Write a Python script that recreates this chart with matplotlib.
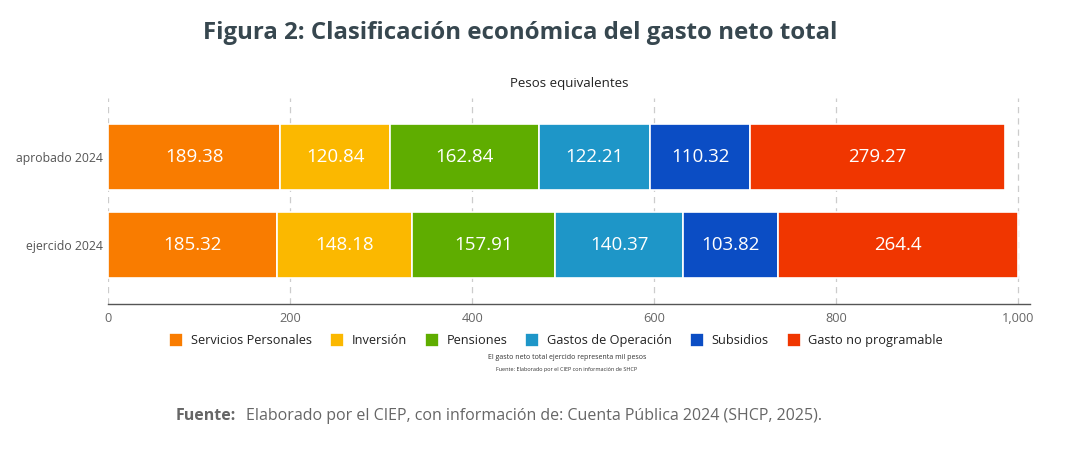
import matplotlib.pyplot as plt

plt.rcParams['font.family'] = ['Open Sans', 'DejaVu Sans']

# data
years = ["aprobado 2024", "ejercido 2024"]
categories = ["Servicios Personales", "Inversión", "Pensiones",
              "Gastos de Operación", "Subsidios", "Gasto no programable"]
aprobado = [189.38, 120.84, 162.84, 122.21, 110.32, 279.27]
ejercido = [185.32, 148.18, 157.91, 140.37, 103.82, 264.4]
colors = ["#F97C00", "#FBB800", "#5FAD00", "#1E96C8", "#0B4DC4", "#F03600"]
xticks = [0, 200, 400, 600, 800, 1000]

fig = plt.figure(figsize=(10.8, 4.61), dpi=100)
ax = fig.add_axes([0.1, 0.3406, 0.854, 0.4468])

series = [aprobado, ejercido]
left = [0.0, 0.0]
for i, cat in enumerate(categories):
    vals = [s[i] for s in series]
    bars = ax.barh([0, 1], vals, left=left, height=0.75, color=colors[i],
                   edgecolor="white", linewidth=1.2, label=cat, zorder=3)
    for b, v in zip(bars, vals):
        ax.text(b.get_x() + b.get_width() / 2, b.get_y() + b.get_height() / 2,
                f"{v:g}", ha="center", va="center", color="white",
                fontsize=13.5, zorder=4)
    left = [l + v for l, v in zip(left, vals)]

ax.set_ylim(1.67, -0.67)
ax.set_xlim(0, 1013)
ax.set_yticks([0, 1])
ax.set_yticklabels(years, fontsize=8.8, color="#555555")
ax.set_xticks(xticks)
ax.set_xticklabels([f"{x:,}" for x in xticks], fontsize=9.2, color="#666666")
ax.tick_params(axis="y", length=0, pad=4)
ax.tick_params(axis="x", length=0, pad=6)
ax.grid(axis="x", color="#cccccc", linestyle=(0, (5, 4)), linewidth=0.9, zorder=0)
for s in ["top", "right", "left"]:
    ax.spines[s].set_visible(False)
ax.spines["bottom"].set_color("#555555")
ax.spines["bottom"].set_linewidth(1.0)

ax.text(0.5, 1.04, "Pesos equivalentes", transform=ax.transAxes,
        ha="center", va="bottom", fontsize=9.5, color="#222222")

leg = fig.legend(loc="center", bbox_to_anchor=(0.515, 0.262), ncol=6,
                 frameon=False, fontsize=9.2, handlelength=1.1, handleheight=1.3,
                 handletextpad=0.6, columnspacing=1.4)
for t in leg.get_texts():
    t.set_color("#222222")

fig.text(0.525, 0.224, "El gasto neto total ejercido representa mil pesos",
         ha="center", va="center", fontsize=5, color="#333333")
fig.text(0.525, 0.199, "Fuente: Elaborado por el CIEP con información de SHCP",
         ha="center", va="center", fontsize=4, color="#333333")

fig.text(0.482, 0.928, "Figura 2: Clasificación económica del gasto neto total",
         ha="center", va="center", fontsize=17.3, fontweight="bold", color="#37474F")

fig.text(0.163, 0.097, "Fuente:", ha="left", va="center", fontsize=11.5,
         fontweight="bold", color="#666666")
fig.text(0.228, 0.097, "Elaborado por el CIEP, con información de: Cuenta Pública 2024 (SHCP, 2025).",
         ha="left", va="center", fontsize=11.5, color="#666666")

fig.savefig("out.png", dpi=100, facecolor="white")
